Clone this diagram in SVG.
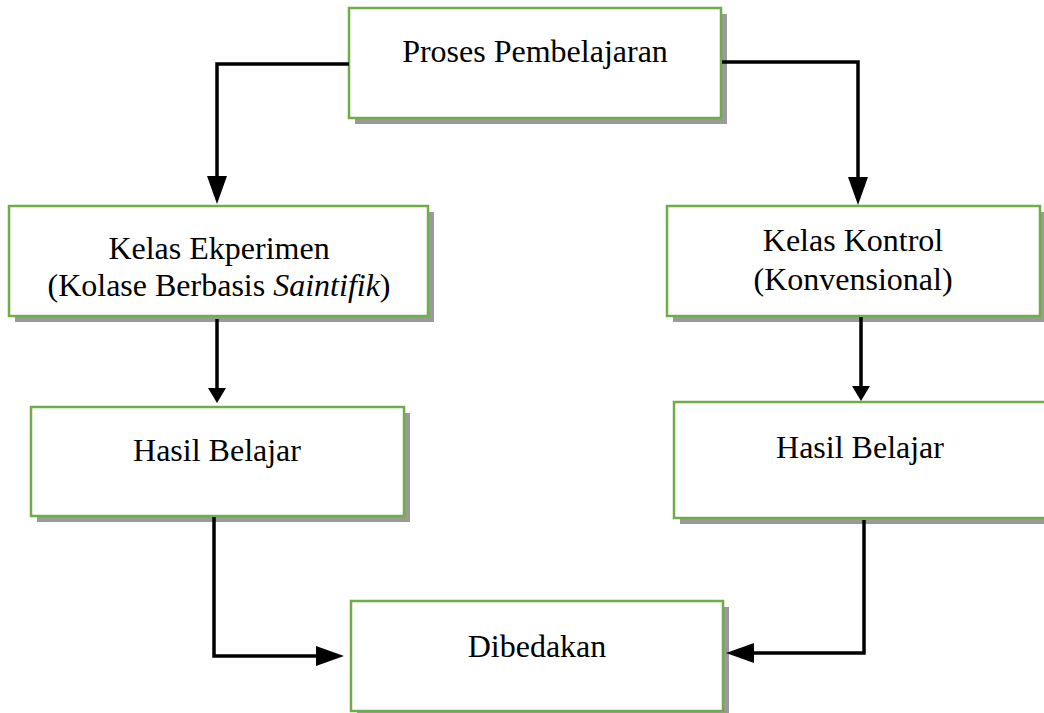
<svg xmlns="http://www.w3.org/2000/svg" width="1044" height="713" viewBox="0 0 1044 713">
<style>
.box{fill:#ffffff;stroke:#70ad47;stroke-width:2.5}
.sh{fill:#9a9a9a}
.t{font-family:"Liberation Serif","Times New Roman",serif;font-size:32px;fill:#000;text-anchor:middle}
.c{fill:none;stroke:#000;stroke-width:3.5}
</style>
<defs>
<marker id="aL" markerUnits="userSpaceOnUse" markerWidth="28" markerHeight="20" refX="18" refY="10" orient="auto" viewBox="0 0 28 20">
<path d="M0,0 L28,10 L0,20 z" fill="#000"/>
</marker>
<marker id="aS" markerUnits="userSpaceOnUse" markerWidth="15" markerHeight="18" refX="7" refY="9" orient="auto" viewBox="0 0 15 18">
<path d="M0,0 L15,9 L0,18 z" fill="#000"/>
</marker>
</defs>
<rect width="1044" height="713" fill="#ffffff"/>
<g id="n1">
<rect class="sh" x="355" y="14" width="372" height="110"/>
<rect class="box" x="349" y="8" width="372" height="110"/>
<text class="t" x="535" y="62">Proses Pembelajaran</text>
</g>
<g id="n2">
<rect class="sh" x="15" y="212" width="419" height="110"/>
<rect class="box" x="9" y="206" width="419" height="110"/>
<text class="t" x="219" y="259">Kelas Ekperimen</text>
<text class="t" x="219" y="296">(Kolase Berbasis <tspan font-style="italic">Saintifik</tspan>)</text>
</g>
<g id="n3">
<rect class="sh" x="673" y="212" width="373" height="110"/>
<rect class="box" x="667" y="206" width="373" height="110"/>
<text class="t" x="853" y="251">Kelas Kontrol</text>
<text class="t" x="853" y="290">(Konvensional)</text>
</g>
<g id="n4">
<rect class="sh" x="37" y="413" width="373" height="109"/>
<rect class="box" x="31" y="407" width="373" height="109"/>
<text class="t" x="217" y="461">Hasil Belajar</text>
</g>
<g id="n5">
<rect class="sh" x="680" y="408" width="374" height="116"/>
<rect class="box" x="674" y="402" width="374" height="116"/>
<text class="t" x="860" y="458">Hasil Belajar</text>
</g>
<g id="n6">
<rect class="sh" x="357" y="607" width="372" height="110"/>
<rect class="box" x="351" y="601" width="372" height="110"/>
<text class="t" x="537" y="657">Dibedakan</text>
</g>
<g id="connectors">
<path class="c" d="M349,64 H217 V194" marker-end="url(#aL)"/>
<path class="c" d="M722,62 H858 V195" marker-end="url(#aL)"/>
<path class="c" d="M217,319 V395" marker-end="url(#aS)"/>
<path class="c" d="M861,317 V393" marker-end="url(#aS)"/>
<path class="c" d="M214,517 V656 H334" marker-end="url(#aL)"/>
<path class="c" d="M864,520 V653 H736" marker-end="url(#aL)"/>
</g>
</svg>
